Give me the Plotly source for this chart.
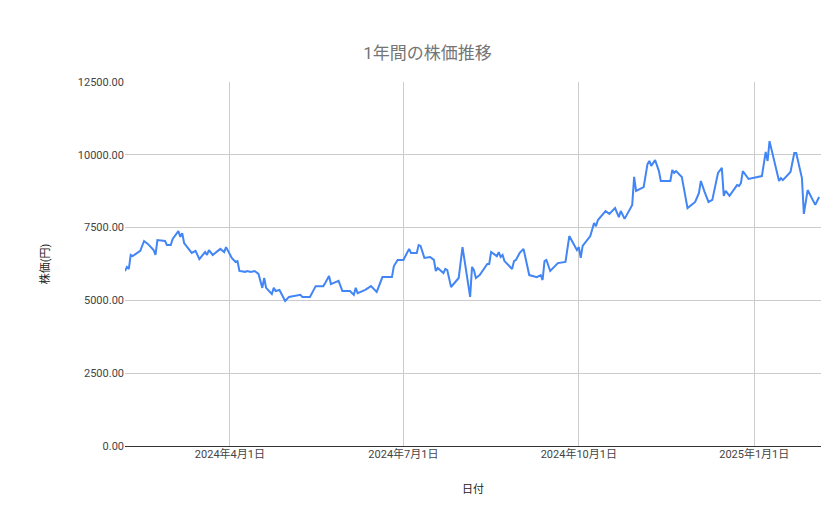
import plotly.graph_objects as go
import pandas as pd

start_date = "2024-02-06"
day_offsets = [0,1,2,3,4,8,10,12,15,16,17,21,22,24,25,28,29,30,31,35,37,39,42,43,44,46,50,52,53,56,58,59,60,63,64,66,68,70,72,73,74,77,78,79,81,84,86,92,93,97,100,104,105,107,108,112,114,118,120,121,122,126,129,132,135,140,141,143,146,149,150,153,154,155,157,160,162,163,164,167,168,169,171,175,177,179,181,182,183,184,186,190,191,192,195,196,197,198,199,203,204,205,207,209,211,212,216,218,219,220,221,223,227,231,233,237,238,239,240,244,246,247,248,252,254,257,259,260,262,266,267,268,272,274,275,276,278,280,281,286,287,288,289,292,295,299,301,302,304,306,308,311,313,314,315,317,321,322,323,324,327,334,336,337,338,343,344,345,349,351,352,355,356,358,362,364]
prices = [6010,6150,6080,6560,6520,6700,7040,6940,6730,6560,7070,7040,6900,6900,7110,7380,7180,7310,6970,6630,6700,6420,6660,6560,6730,6560,6770,6660,6830,6460,6320,6350,6010,5980,6010,5980,6010,5910,5430,5770,5430,5220,5430,5320,5360,4980,5120,5190,5120,5120,5490,5490,5600,5840,5560,5670,5320,5320,5190,5430,5250,5360,5490,5290,5800,5800,6180,6390,6390,6770,6630,6630,6900,6870,6460,6490,6390,6010,6110,5940,6080,6040,5460,5770,6830,6010,5120,6150,6040,5770,5870,6250,6250,6660,6520,6660,6490,6560,6350,6080,6350,6390,6630,6770,6220,5870,5800,5870,5700,6350,6390,6010,6280,6320,7210,6730,6830,6460,6870,7210,7660,7550,7760,8070,7970,8170,7860,8070,7800,8280,9240,8760,8890,9680,9790,9620,9820,9440,9100,9100,9480,9380,9440,9240,8170,8380,8690,9100,8720,8380,8450,9380,9550,8590,8760,8590,8960,8930,9030,9440,9170,9270,10100,9790,10470,9100,9200,9130,9410,10060,10060,9200,7970,8790,8280,8550]
x_tick_vals = ["2024-04-01", "2024-07-01", "2024-10-01", "2025-01-01"]
x_tick_text = ["2024年4月1日", "2024年7月1日", "2024年10月1日", "2025年1月1日"]
y_tick_vals = [0, 2500, 5000, 7500, 10000, 12500]

dates = pd.Timestamp(start_date) + pd.to_timedelta(day_offsets, unit="D")

fig = go.Figure(go.Scatter(x=dates, y=prices, mode="lines",
                           line=dict(color="#4285F4", width=2)))
font = "Roboto, 'Noto Sans CJK JP', sans-serif"
fig.update_layout(
    width=839, height=519, plot_bgcolor="white", paper_bgcolor="white",
    margin=dict(l=117, r=26, t=74, b=81),
    title=dict(text="1年間の株価推移", x=0.5, xanchor="center", y=0.925,
               font=dict(size=17, color="#757575", family=font)),
    font=dict(family=font, size=11, color="#444444"),
    showlegend=False,
)
fig.update_xaxes(range=["2024-02-06", "2025-02-05"], tickvals=x_tick_vals, ticktext=x_tick_text,
                 showgrid=True, gridcolor="#cccccc", ticks="", showline=False, automargin=False,
                 title=dict(text="日付", font=dict(size=11, color="#222222"), standoff=25),
                 tickfont=dict(size=11, color="#444444"))
fig.update_yaxes(range=[0, 12500], tickvals=y_tick_vals, tickformat=".2f", automargin=False,
                 showgrid=True, gridcolor="#cccccc", zeroline=True, zerolinecolor="#333333",
                 zerolinewidth=1, ticks="",
                 title=dict(text="株価(円)", font=dict(size=11, color="#222222"), standoff=25),
                 tickfont=dict(size=11, color="#444444"))
fig.write_html("out.html")
